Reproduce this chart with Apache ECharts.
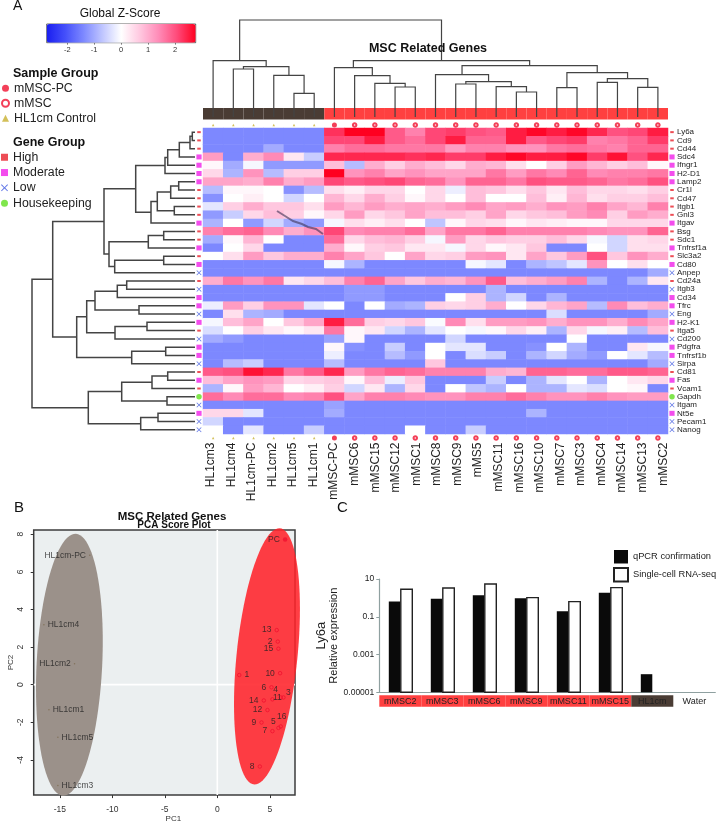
<!DOCTYPE html>
<html><head><meta charset="utf-8">
<style>html,body{margin:0;padding:0;background:#fff}#c{width:717px;height:824px}</style>
<script src="https://cdn.jsdelivr.net/npm/echarts@6/dist/echarts.min.js"></script>
</head><body><div id="c"></div>
<script>
const samples = ['HL1cm3','HL1cm4','HL1cm-PC','HL1cm2','HL1cm5','HL1cm1','mMSC-PC','mMSC6','mMSC15','mMSC12','mMSC1','mMSC8','mMSC9','mMS5','mMSC11','mMSC16','mMSC10','mMSC7','mMSC3','mMSC4','mMSC14','mMSC13','mMSC2'];
const sampleGroups = ['H','H','H','H','H','H','P','M','M','M','M','M','M','M','M','M','M','M','M','M','M','M','M'];
const genes = ['Ly6a','Cd9','Cd44','Sdc4','Ifngr1','H2-D1','Lamp2','Cr1l','Cd47','Itgb1','Gnl3','Itgav','Bsg','Sdc1','Tnfrsf1a','Slc3a2','Cd80','Anpep','Cd24a','Itgb3','Cd34','Tfrc','Eng','H2-K1','Itga5','Cd200','Pdgfra','Tnfrsf1b','Sirpa','Cd81','Fas','Vcam1','Gapdh','Itgam','Nt5e','Pecam1','Nanog'];
const geneGroups = ['High','High','High','Moderate','Moderate','Moderate','Moderate','High','High','High','High','Moderate','High','High','Moderate','High','Moderate','Low','High','Low','Moderate','Moderate','Low','Moderate','High','Low','Moderate','Moderate','Low','High','Moderate','High','Housekeeping','Low','Moderate','Low','Low'];
const B = -1.4;
const zScores = [
[B,B,B,B,B,B,2.3,2.8,2.8,1.9,1.5,2.1,2.2,2.0,1.9,2.5,2.7,2.5,2.7,2.4,2.0,2.1,2.5],
[B,B,B,B,B,B,2.1,2.1,2.5,1.9,1.7,2.1,2.5,1.8,1.8,2.5,1.9,2.1,2.2,1.5,1.6,1.8,2.2],
[B,B,B,-1.0,B,B,1.5,1.7,1.7,1.6,1.6,1.6,1.2,1.5,1.5,1.3,1.3,1.6,1.7,1.6,1.5,1.8,1.8],
[1.2,B,1.0,1.4,0.3,-0.6,2.4,2.4,2.4,2.4,2.3,2.4,2.2,2.2,2.5,2.7,2.5,2.5,2.7,2.2,2.6,2.0,2.4],
[0.1,-1.0,-0.1,-1.2,-1.2,-1.2,0.8,-0.8,1.0,0.6,1.0,0.8,0.5,1.0,0.9,0.4,0.0,0.6,1.2,0.9,0.6,0.8,0.1],
[0.5,-0.9,1.3,-0.8,0.6,0.6,2.8,1.3,1.5,1.1,1.3,1.1,1.1,1.1,1.6,1.2,1.6,1.4,1.8,1.4,1.5,1.5,1.6],
[1.1,1.1,1.0,1.5,1.0,1.2,2.1,1.9,2.0,2.1,1.8,1.7,1.3,1.8,1.8,1.6,2.0,1.9,1.9,1.8,1.6,1.7,2.0],
[-0.8,0.1,0.1,0,-1.3,-0.8,0.4,0.2,0.5,0.5,0,0.5,-0.2,0.8,0.7,0.4,0.7,0.3,0.8,0.5,0.5,0.4,0.6],
[-1.3,0,0.2,0,-0.5,0,0.9,0.5,1.0,0.6,0.1,0.5,0,0.8,0,0,0.8,0.2,0.9,0.4,0.6,0.6,0.8],
[-0.3,0.6,1.0,0.7,0.7,0.4,1.2,0.9,1.2,1.0,1.1,1.0,1.2,1.4,1.1,1.2,1.0,1.3,1.2,1.5,1.1,0.9,1.5],
[-1.2,-0.6,0.5,0.8,0.6,0.1,0.5,1.2,0.5,0.7,1.1,0.8,0.8,0.6,1.1,0.5,0.7,0.8,1.2,1.4,0.6,1.2,1.0],
[-0.9,0,-1.2,-0.5,-1.0,-1.2,-0.1,0.4,0.2,0.4,0,-0.7,0.1,0.5,0.4,0.1,0.3,0.2,0.1,0.1,0.5,0.5,0.5],
[1.5,1.7,1.8,1.4,1.0,1.3,2.1,1.4,1.5,1.5,1.7,1.1,1.6,1.6,1.8,1.5,1.5,1.5,1.5,1.4,1.3,1.3,1.8],
[-1.0,0.1,0.9,0,B,B,1.7,0.5,0.8,0.9,0.6,-0.1,1.2,0.5,0.7,0.6,0.6,0.8,0.5,-0.1,-0.5,0.4,0.5],
[B,0,0.5,B,B,B,1.0,0.1,0.6,0.7,0.3,0.3,-0.1,0.5,0.1,0.3,0.7,B,B,0,-0.5,0.4,0.4],
[0,0.4,1.2,0.7,1.0,1.0,1.5,1.1,0.7,0,1.1,0.5,0.6,1.2,1.3,0.3,1.1,0.7,1.2,2.0,0.7,1.3,1.0],
[B,B,B,B,B,B,-0.1,-0.9,B,B,B,B,B,-0.1,-0.3,B,-0.9,-0.7,-0.3,1.3,0,0.4,0],
[B,B,B,B,B,B,B,B,B,B,B,B,B,B,B,B,B,B,B,B,B,B,-1.0],
[1.0,1.6,1.3,1.6,0.3,0.5,0.8,1.5,1.8,1.1,0.7,1.0,0.9,1.3,1.9,0.8,1.0,1.2,1.5,-0.9,B,-0.9,0.3],
[B,B,B,B,B,B,B,-1.2,-1.2,B,B,B,B,B,-0.9,B,B,B,B,B,B,B,B],
[B,B,B,B,B,B,B,-1.2,-1.2,B,B,B,0,0.6,-0.9,-0.5,B,-0.9,B,B,B,B,B],
[-0.2,1.2,0.6,1.3,1.3,-0.3,0,B,0,-1.0,-0.9,0.6,0.5,0.6,1.0,0,0.5,0.9,1.1,-0.8,1.4,0.8,1.0],
[B,0.4,-0.9,-1.0,B,B,B,B,B,B,B,B,B,B,B,B,B,-0.4,B,B,B,B,-1.0],
[-0.1,0.8,1.1,0,0.7,1.1,2.5,1.7,0.6,0.5,0.7,-0.05,1.4,0.4,1.2,1.2,1.3,1.0,1.3,1.3,1.0,1.4,1.1],
[-0.4,0,0.6,0.3,0.1,0.3,1.6,0.1,0.3,-0.5,-0.9,-0.3,0,-0.1,0.1,0.5,0.2,-0.9,0.5,-0.1,0.2,-0.8,0.8],
[-1.0,-1.2,B,B,B,B,-1.1,0.1,B,B,B,B,-0.5,B,B,B,B,B,0,B,B,B,B],
[B,B,B,B,B,B,0.1,-1.3,B,-0.6,B,0,-0.3,-0.3,B,B,-1.3,0,-0.9,B,B,0.3,-0.1],
[B,B,B,B,B,B,-0.2,B,B,-0.8,-1.2,0,B,-0.4,-0.6,B,-0.9,-0.5,-1.0,-1.2,0,-0.3,-0.8],
[B,-0.8,-0.6,B,B,B,-0.8,B,B,B,B,0.7,B,B,B,B,B,B,B,B,B,B,-1.0],
[1.9,2.0,2.6,2.4,1.6,1.9,2.4,1.2,1.6,1.8,1.7,1.5,1.5,1.5,1.0,0.9,1.8,1.8,1.7,1.7,1.9,1.9,1.8],
[0.8,1.1,1.3,1.2,0.5,0.6,0.7,0.1,0.8,-0.2,0.7,B,B,B,-0.6,B,-0.9,-0.3,0,-0.9,0,0.3,0.5],
[-0.9,0.1,1.2,0.9,0,0.2,0.6,-0.5,0.3,-0.9,0.5,B,0,-0.7,-0.9,0,-0.9,-0.9,-0.3,-0.4,0,0.1,B],
[1.7,1.4,1.7,1.7,1.4,1.5,2.0,1.1,1.5,1.5,1.4,1.3,1.3,1.5,1.5,1.7,1.5,1.3,1.3,1.5,1.3,1.2,1.2],
[B,B,B,B,B,B,-1.1,B,B,B,B,B,B,B,B,B,B,B,B,B,B,B,B],
[0.5,0.5,-0.3,B,B,B,-1.0,B,B,B,B,B,B,B,B,B,-0.9,B,B,B,B,B,B],
[-0.5,B,B,B,B,B,B,B,B,B,B,B,B,B,B,B,B,B,B,B,B,B,B],
[0,B,-0.3,B,B,-0.6,B,B,B,B,0,B,B,-0.6,B,B,B,B,B,B,B,B,B]
];
// Dendrogram merges, hclust style: [left, right, height]; >=0 is a leaf, -k is merge k-1
const topMerges = [[1,2,48],[4,5,23.7],[3,-2,41.7],[-1,-3,50.3],[0,-4,56.3],[9,10,30],[8,-6,33.7],[7,-7,41.3],[6,-8,49.3],[15,16,25],[14,-10,30.3],[12,13,33],[-12,-11,35.3],[11,-13,42.3],[17,18,29.3],[19,20,34.7],[21,22,29.7],[-16,-17,38.3],[-15,-18,44.3],[-14,-19,51.3],[-9,-20,56.3],[-5,-21,97]];
const leftMerges = [[0,1,2.7],[-1,2,5],[-2,3,15.7],[-3,4,27.3],[-4,5,30],[6,7,16.3],[-6,8,24.3],[9,10,20.7],[-7,-8,37.7],[-9,11,44],[-5,-10,59.3],[12,13,31.3],[-12,14,46.7],[15,16,31.3],[-14,17,80.3],[-13,-15,86],[-11,-16,91],[18,19,68.3],[-18,20,77.7],[21,22,56],[-19,-20,100],[23,24,48],[-22,25,80],[-21,-23,108.3],[26,27,29.3],[-25,28,63.3],[-24,-26,118.3],[-17,-27,142.3],[29,30,27.3],[-29,31,43],[32,33,28],[-30,-31,73.3],[34,35,37],[-33,36,54.3],[-32,-34,106.7],[-28,-35,163]];
const colourTicks = [-2,-1,0,1,2];
const colourStops = ['#1a1ef0','#4550fa','#7f8aff','#c0c6ff','#ffffff','#ffc8e0','#ff8cb8','#ff4a7a','#ff0020'];

const pcaXTicks = [-15,-10,-5,0,5];
const pcaYTicks = [-4,-2,0,2,4,6,8];
const pcaControl = [['HL1cm-PC',-12.15,6.88,'left'],['HL1cm4',-16.52,3.19,'right'],['HL1cm2',-13.6,1.11,'left'],['HL1cm1',-16.04,-1.33,'right'],['HL1cm5',-15.19,-2.80,'right'],['HL1cm3',-15.19,-5.36,'right']];
const pcaMsc = [['13',5.66,2.90,'left'],['2',5.76,2.29,'left'],['15',5.82,1.91,'left'],['1',2.09,0.51,'right'],['10',5.98,0.61,'left'],['6',5.16,-0.14,'left'],['3',6.30,-0.68,[5,-5]],['4',6.04,-0.68,[-5,-8]],['11',5.25,-0.78,[5,-2]],['14',4.43,-0.84,'left'],['12',4.78,-1.35,'left'],['9',4.21,-2.01,'left'],['16',6.04,-2.22,[1,-10]],['5',5.82,-2.30,[-5,-6]],['7',5.25,-2.47,'left'],['8',4.05,-4.35,'left']];
const pcaPc = [['PC',6.46,7.71,'left']];
// [centre x, centre y, x radius, y radius, correlation]
const ellipseControl = [-14.09,1.06,3.18,6.96,0.18];
const ellipseMsc = [4.73,1.505,3.14,6.81,0.373];

const barCategories = ['mMSC2','mMSC3','mMSC6','mMSC9','mMSC11','mMSC15','HL1cm','Water'];
const qpcr = [0.634,0.91,1.37,0.95,0.195,1.89,0.000091,null];
const rnaSeq = [2.84,3.35,5.4,1.03,0.634,3.5,null,null];
const barTicks = [0.00001,0.001,0.1,10];

const heat = [];
zScores.forEach((row,r)=>row.forEach((v,c)=>heat.push([c,r,v])));

function segments(merges){
  const pos = m => m>=0 ? [m,0] : nodes[-m-1];
  const nodes = [], segs = [];
  merges.forEach(([a,b,h])=>{
    const A=pos(a), B2=pos(b);
    segs.push([A[0],A[1],B2[0],B2[1],h]);
    nodes.push([(A[0]+B2[0])/2,h]);
  });
  return segs;
}
const font = 'Liberation Sans, Arial, sans-serif';
const grids = [
 {left:203,top:128,width:465,height:306},            //0 heat
 {left:203,top:108,width:465,height:11.5},           //1 strip
 {left:203,top:20,width:465,height:97},              //2 top dendro
 {left:203,top:121.5,width:465,height:7},            //3 top markers
 {left:203,top:434.5,width:465,height:7},            //4 bottom markers
 {left:32,top:128,width:163,height:306},             //5 left dendro
 {left:196,top:128,width:6,height:306},              //6 left marks
 {left:668,top:128,width:8,height:306},              //7 right marks
 {left:46.7,top:24,width:149,height:18.7,show:true,borderColor:'#222',borderWidth:0.7,backgroundColor:'transparent'}, //8 colourbar
 {left:33.7,top:530,width:261.3,height:275.3,show:true,borderColor:'#3c3c3c',borderWidth:1.5,backgroundColor:'#ebeff0'}, //9 pca
 {left:379.3,top:579,width:336,height:113.3},        //10 bars
 {left:200.5,top:434.5,width:473,height:7}           //11 column labels
];
const hiddenCat = (g,d,extra)=>Object.assign({type:'category',gridIndex:g,data:d,show:false},extra||{});
const rowsCat = (g,extra)=>Object.assign({type:'category',gridIndex:g,data:genes,inverse:true,show:false},extra||{});
const xAxes = [
 hiddenCat(0,samples),
 hiddenCat(1,samples),
 {type:'value',gridIndex:2,min:-0.5,max:22.5,show:false},
 hiddenCat(3,samples),
 hiddenCat(4,samples),
 {type:'value',gridIndex:5,min:0,max:163,inverse:true,show:false},
 hiddenCat(6,['m']),
 hiddenCat(7,['m']),
 {type:'value',gridIndex:8,min:-2.76,max:2.76,axisLine:{show:false,onZero:false},splitLine:{show:false},
  axisTick:{customValues:colourTicks,length:2,lineStyle:{color:'#333',width:0.6}},
  axisLabel:{customValues:colourTicks,fontSize:7.5,margin:3,color:'#333',fontFamily:font}},
 {type:'value',gridIndex:9,min:-17.49,max:7.4,splitLine:{show:false},axisLine:{show:false,onZero:false},
  axisTick:{customValues:pcaXTicks,length:3,lineStyle:{color:'#333'}},
  axisLabel:{customValues:pcaXTicks,fontSize:8.5,margin:10,color:'#333',fontFamily:font},
  name:'PC1',nameLocation:'middle',nameGap:14,nameTextStyle:{fontSize:8,color:'#333',padding:[0,0,0,18],fontFamily:font}},
 {type:'category',gridIndex:10,data:barCategories,
  axisLine:{onZero:false,lineStyle:{color:'#8fa0a0',width:1.2}},axisTick:{length:2,lineStyle:{color:'#8fa0a0'}},
  axisLabel:{interval:0,margin:3,fontFamily:font,
   formatter:(v)=>v==='HL1cm'?'{b|'+v+'}':(v==='Water'?'{w|'+v+'}':'{r|'+v+'}'),
   rich:{r:{backgroundColor:'#ff4040',width:42,height:11.5,align:'center',fontSize:9,color:'#222',fontFamily:font},
         b:{backgroundColor:'#4a3c34',width:42,height:11.5,align:'center',fontSize:9,color:'#222',fontFamily:font},
         w:{width:42,height:11.5,align:'center',fontSize:9,color:'#222',fontFamily:font}}}},
 {type:'category',gridIndex:11,data:samples,axisLine:{show:false},axisTick:{show:false},
  axisLabel:{interval:0,rotate:90,fontSize:12,margin:1,color:'#222',fontFamily:font,hideOverlap:false}}
];
const yAxes = [
 rowsCat(0),
 {type:'value',gridIndex:1,min:0,max:1,show:false},
 {type:'value',gridIndex:2,min:0,max:97,show:false},
 {type:'category',gridIndex:3,data:['m'],show:false},
 {type:'category',gridIndex:4,data:['m'],show:false},
 {type:'value',gridIndex:5,min:-0.5,max:36.5,inverse:true,show:false},
 rowsCat(6),
 rowsCat(7,{show:true,position:'right',axisLine:{show:false},axisTick:{show:false},
   axisLabel:{interval:0,fontSize:8,margin:1,color:'#222',fontFamily:font}}),
 {type:'value',gridIndex:8,show:false},
 {type:'value',gridIndex:9,min:-5.87,max:8.22,splitLine:{show:false},axisLine:{show:false,onZero:false},
  axisTick:{customValues:pcaYTicks,length:3,lineStyle:{color:'#333'}},
  axisLabel:{customValues:pcaYTicks,rotate:90,fontSize:8.5,margin:9,color:'#333',fontFamily:font},
  name:'PC2',nameLocation:'middle',nameGap:18,nameTextStyle:{fontSize:8,color:'#333',fontFamily:font}},
 {type:'log',gridIndex:10,min:0.00001,max:10,logBase:10,splitLine:{show:false},
  axisLine:{show:true,onZero:false,lineStyle:{color:'#8fa0a0',width:1.2}},
  axisTick:{show:true,customValues:barTicks,length:3,lineStyle:{color:'#8fa0a0'}},
  axisLabel:{customValues:barTicks,fontSize:8.5,margin:5,color:'#222',fontFamily:font,formatter:v=>String(v)},
  name:'{a|Ly6a}\n{b|Relative expression}',nameLocation:'middle',nameRotate:90,nameGap:27,
  nameTextStyle:{fontFamily:font,rich:{a:{fontSize:13,color:'#222',fontFamily:font,lineHeight:14},b:{fontSize:11,color:'#222',fontFamily:font,lineHeight:12}}}},
 {type:'category',gridIndex:11,data:['m'],show:false}
];
function dendroSeries(segs,xi,horizontal,color,width){
  return {type:'custom',xAxisIndex:xi,yAxisIndex:xi,silent:true,data:segs,z:4,
   renderItem:(p,api)=>{
    const a=api.value(0),ah=api.value(1),b=api.value(2),bh=api.value(3),h=api.value(4);
    const pt=(pos,ht)=>horizontal?api.coord([pos,ht]):api.coord([ht,pos]);
    return {type:'polyline',shape:{points:[pt(a,ah),pt(a,h),pt(b,h),pt(b,bh)]},style:{stroke:color,lineWidth:width,fill:'none'}};
   }};
}
function ellipseSeries(params,fill){
  return {type:'custom',xAxisIndex:9,yAxisIndex:9,silent:true,data:[params],z:3,
   renderItem:(p,api)=>{
    const [cx,cy,rx,ry,rho]=[0,1,2,3,4].map(i=>api.value(i));
    const d=Math.acos(rho),pts=[];
    for(let i=0;i<96;i++){const t=i/96*2*Math.PI;pts.push(api.coord([cx+rx*Math.cos(t),cy+ry*Math.cos(t-d)]));}
    return {type:'polygon',shape:{points:pts},style:{fill:fill,stroke:'none'}};
   }};
}
// Bars on the log axis rise from the axis minimum, so they are custom rectangles through the axis scales.
function logBars(name,values,offset,fill,stroke,bw){
  return {type:'custom',name,xAxisIndex:10,yAxisIndex:10,silent:true,z:3,clip:false,
   itemStyle:{color:fill,borderColor:stroke,borderWidth:bw},
   encode:{x:0,y:1},
   data:values.map((v,i)=>v==null?null:[i,v]).filter(Boolean),
   renderItem:(p,api)=>{
    const top=api.coord([api.value(0),api.value(1)]);
    const base=api.coord([api.value(0),barTicks[0]]);
    return {type:'rect',shape:{x:top[0]+offset,y:top[1],width:11.5,height:base[1]-top[1]},
      style:{fill:fill,stroke:stroke,lineWidth:bw}};
   }};
}
const xIcon='path://M0,1 L1,0 L5,4 L9,0 L10,1 L6,5 L10,9 L9,10 L5,6 L1,10 L0,9 L4,5 Z';
const geneStyle={High:{symbol:'rect',size:[3.5,2],color:'#e8202a'},Moderate:{symbol:'rect',size:[5.2,5],color:'#f020e8'},Low:{symbol:xIcon,size:[5,5],color:'#3550e0'},Housekeeping:{symbol:'circle',size:[5.5,5.5],color:'#60e020'}};
function geneMarks(ax){
  return Object.keys(geneStyle).map(g=>({type:'scatter',name:g,xAxisIndex:ax,yAxisIndex:ax,silent:true,z:5,
    symbol:geneStyle[g].symbol,symbolSize:geneStyle[g].size,itemStyle:{color:geneStyle[g].color},
    data:genes.map((n,r)=>geneGroups[r]===g?[0,r]:null).filter(Boolean)}));
}
const sampleStyle={P:{name:'mMSC-PC',symbol:'circle',size:5,color:'#f01030',bw:0},M:{name:'mMSC',symbol:'emptyCircle',size:3.5,color:'#f01030',bw:1.1},H:{name:'HL1cm Control',symbol:'triangle',size:2.5,color:'#c8b030',bw:0}};
function sampleMarks(ax){
  return Object.keys(sampleStyle).map(k=>{const s=sampleStyle[k];return {type:'scatter',name:s.name,xAxisIndex:ax,yAxisIndex:ax,silent:true,z:5,
    symbol:s.symbol,symbolSize:s.size,itemStyle:{color:s.color,borderColor:s.color,borderWidth:s.bw},
    data:samples.map((n,c)=>sampleGroups[c]===k?[c,0]:null).filter(Boolean)};});
}
function pcaPoints(rows,size,fill,stroke,bw){
  return {type:'scatter',xAxisIndex:9,yAxisIndex:9,silent:true,z:6,clip:false,symbol:'circle',symbolSize:size,
   itemStyle:{color:fill,borderColor:stroke,borderWidth:bw},
   data:rows.map(r=>({value:[r[1],r[2]],label:{show:true,formatter:r[0],fontSize:8.5,color:'#222',fontFamily:font,
     position:typeof r[3]==='string'?r[3]:'inside',offset:typeof r[3]==='string'?[0,0]:r[3].concat([]),distance:3}}))};
}
const series = [
 {type:'heatmap',xAxisIndex:0,yAxisIndex:0,data:heat,silent:true,emphasis:{disabled:true},itemStyle:{borderWidth:0}},
 {type:'bar',xAxisIndex:1,yAxisIndex:1,silent:true,barWidth:'100%',z:1,
  data:samples.map((n,c)=>({value:1,itemStyle:{color:sampleGroups[c]==='H'?'#4a3c34':'#ff4040'}}))},
 dendroSeries(segments(topMerges),2,true,'#444',1.2),
 ...sampleMarks(3),
 ...sampleMarks(4),
 dendroSeries(segments(leftMerges),5,false,'#444',1.5),
 ...geneMarks(6),
 ...geneMarks(7),
 {type:'line',xAxisIndex:9,yAxisIndex:9,silent:true,showSymbol:false,z:2,lineStyle:{color:'#fff',width:1.6},data:[[0,-5.87],[0,8.22]]},
 {type:'line',xAxisIndex:9,yAxisIndex:9,silent:true,showSymbol:false,z:2,lineStyle:{color:'#fff',width:1.6},data:[[-17.49,0],[7.4,0]]},
 ellipseSeries(ellipseControl,'#9b918a'),
 ellipseSeries(ellipseMsc,'rgba(255,35,42,0.88)'),
 pcaPoints(pcaControl,1.5,'#7d6c50','#7d6c50',0),
 pcaPoints(pcaMsc,3.5,'transparent','#f01030',1),
 pcaPoints(pcaPc,4.5,'#f01030','#f01030',0),
 logBars('qPCR confirmation',qpcr,-11.5,'#0a0a0a','#0a0a0a',0),
 logBars('Single-cell RNA-seq',rnaSeq,0.5,'#ffffff','#222222',1.4)
];
const t=(text,left,top,size,weight,align)=>({text,left,top,padding:0,textAlign:align||'left',textStyle:{fontFamily:font,fontSize:size,fontWeight:weight||'normal',color:'#111'}});
const option = {
 animation:false,
 textStyle:{fontFamily:font},
 title:[
  t('A',13,-1,14),
  t('B',14,500,15),
  t('C',337,500,15),
  t('Global Z-Score',120,8,12,'normal','center'),
  t('MSC Related Genes',428,42,12.5,'bold','center'),
  t('Sample Group',13,67,12.5,'bold'),
  t('Gene Group',13,136,12.5,'bold'),
  t('MSC Related Genes',172,511,11.5,'bold','center'),
  t('PCA Score Plot',174,520,10,'bold','center')
 ],
 grid:grids, xAxis:xAxes, yAxis:yAxes,
 visualMap:{type:'continuous',seriesIndex:0,dimension:2,min:-2.76,max:2.76,orient:'horizontal',left:46.7,top:24,itemWidth:18.7,itemHeight:149,padding:0,
   text:null,calculable:false,realtime:false,hoverLink:false,showLabel:false,inRange:{color:colourStops},textStyle:{fontSize:0}},
 legend:[
  {orient:'vertical',left:1,top:82,padding:0,itemWidth:7,itemHeight:7,itemGap:2.5,selectedMode:false,textStyle:{fontSize:12.3,color:'#222',fontFamily:font,lineHeight:12.5},
   data:[{name:'mMSC-PC',icon:'circle'},{name:'mMSC',icon:'emptyCircle'},{name:'HL1cm Control',icon:'triangle'}]},
  {orient:'vertical',left:1,top:151,padding:0,itemWidth:7,itemHeight:7,itemGap:2.8,selectedMode:false,textStyle:{fontSize:12.3,color:'#222',fontFamily:font,lineHeight:12.5},
   data:[{name:'High',icon:'rect'},{name:'Moderate',icon:'rect'},{name:'Low',icon:xIcon},{name:'Housekeeping',icon:'circle'}]},
  {orient:'vertical',left:613,top:550,padding:0,itemWidth:14,itemHeight:13.5,itemGap:3.5,selectedMode:false,textStyle:{fontSize:9.3,color:'#222',fontFamily:font},
   data:[{name:'qPCR confirmation',icon:'rect'},{name:'Single-cell RNA-seq',icon:'rect'}]}
 ],
 graphic:[{type:'polyline',z:50,silent:true,shape:{points:[[277,211],[285,216],[293,221],[302,224],[308,227],[316,229],[323,234]]},style:{stroke:'rgba(60,50,85,0.6)',lineWidth:2,fill:'none'}}],
 series
};
const chart = echarts.init(document.getElementById('c'),null,{renderer:'canvas'});
chart.setOption(option);
</script></body></html>
